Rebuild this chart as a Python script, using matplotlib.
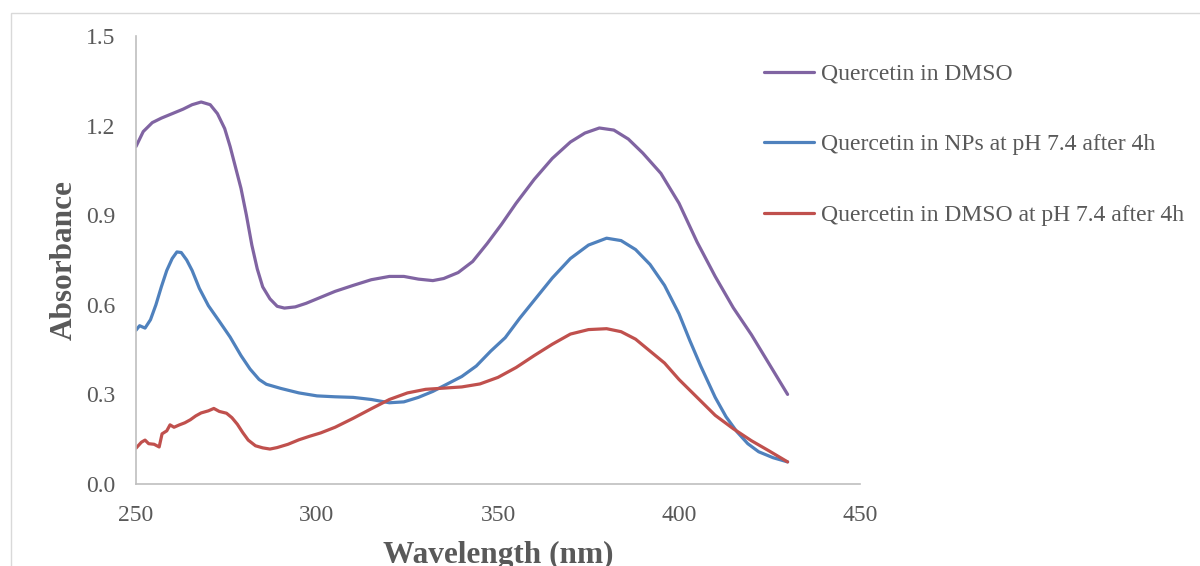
import matplotlib.pyplot as plt
from matplotlib.patches import Rectangle

plt.rcParams['font.family'] = ['Liberation Serif', 'DejaVu Serif']

# Quercetin in DMSO
wl_dmso = [250, 252, 254.5, 257, 260, 263, 265.5, 268, 270.5, 272.5, 274.5, 276, 277.5, 279,
           280.5, 282, 283.5, 285, 287, 289, 291, 294, 297, 301, 305, 310, 315, 320, 324, 328,
           332, 335, 339, 343, 347, 351, 355, 360, 365, 370, 374, 378, 382, 386, 390, 395,
           400, 405, 410, 415, 420, 425, 430]
abs_dmso = [1.13, 1.18, 1.21, 1.225, 1.24, 1.255, 1.27, 1.279, 1.27, 1.24, 1.19, 1.13, 1.06, 0.99,
            0.90, 0.80, 0.72, 0.66, 0.62, 0.595, 0.589, 0.593, 0.605, 0.625, 0.645, 0.665, 0.684,
            0.695, 0.695, 0.686, 0.681, 0.688, 0.708, 0.745, 0.805, 0.87, 0.94, 1.02, 1.09, 1.145,
            1.175, 1.192, 1.185, 1.155, 1.108, 1.04, 0.94, 0.81, 0.695, 0.59, 0.50, 0.40, 0.30]

# Quercetin in NPs at pH 7.4 after 4h
wl_np = [250, 251, 252.5, 254, 255.5, 257, 258.5, 260, 261.3, 262.5, 264, 265.5, 267.5, 270,
         273, 276, 279, 281.5, 284, 286, 290, 295, 300, 305, 310, 315, 320, 324, 328, 332, 336,
         340, 344, 348, 352, 356, 360, 365, 370, 375, 380, 384, 388, 392, 396, 400, 403, 406,
         410, 413, 416, 419, 422, 426, 430]
abs_np = [0.515, 0.53, 0.522, 0.55, 0.60, 0.66, 0.715, 0.755, 0.777, 0.775, 0.75, 0.715, 0.655,
          0.597, 0.545, 0.492, 0.43, 0.385, 0.35, 0.334, 0.32, 0.305, 0.295, 0.292, 0.29, 0.283,
          0.272, 0.275, 0.29, 0.31, 0.335, 0.36, 0.395, 0.445, 0.49, 0.555, 0.615, 0.69, 0.755,
          0.80, 0.823, 0.815, 0.785, 0.735, 0.665, 0.57, 0.48, 0.395, 0.29, 0.225, 0.175, 0.135,
          0.108, 0.088, 0.074]

# Quercetin in DMSO at pH 7.4 after 4h
wl_ph = [250, 251.5, 252.5, 253.5, 255, 256.4, 257.2, 258.5, 259.4, 260.5, 262, 263.5, 265,
         266.5, 268, 270, 271.5, 273, 275, 276.5, 278, 279.5, 281, 283, 285, 287, 289, 292, 295,
         298, 301, 305, 310, 315, 320, 325, 330, 335, 340, 345, 350, 355, 360, 365, 370, 375,
         380, 384, 388, 392, 396, 400, 405, 410, 415, 420, 425, 430]
abs_ph = [0.12, 0.14, 0.147, 0.135, 0.133, 0.124, 0.168, 0.178, 0.198, 0.19, 0.198, 0.205, 0.215,
          0.228, 0.238, 0.245, 0.253, 0.243, 0.237, 0.222, 0.2, 0.172, 0.147, 0.128, 0.121, 0.117,
          0.122, 0.133, 0.148, 0.16, 0.171, 0.19, 0.22, 0.252, 0.283, 0.305, 0.317, 0.321, 0.325,
          0.335, 0.357, 0.39, 0.43, 0.468, 0.502, 0.517, 0.52, 0.51, 0.485, 0.445, 0.405, 0.35,
          0.29, 0.23, 0.185, 0.145, 0.11, 0.074]

labels = ['Quercetin in DMSO', 'Quercetin in NPs at pH 7.4 after 4h',
          'Quercetin in DMSO at pH 7.4 after 4h']
colors = ['#8064A2', '#4F81BD', '#C0504D']
xticks = [250, 300, 350, 400, 450]
yticks = [0.0, 0.3, 0.6, 0.9, 1.2, 1.5]

fig = plt.figure(figsize=(12, 5.66), dpi=100)
ax = fig.add_axes([136 / 1200, 1 - 484 / 566, 724 / 1200, 448 / 566])

# chart border (cropped)
fig.patches.append(Rectangle((11 / 1200, -0.1), 1.2, 1 - 13 / 566 + 0.1,
                             transform=fig.transFigure, fill=False,
                             edgecolor='#d9d9d9', linewidth=1))

for x, y, c, lab in zip([wl_dmso, wl_np, wl_ph], [abs_dmso, abs_np, abs_ph], colors, labels):
    ax.plot(x, y, color=c, linewidth=2.3, label=lab, solid_capstyle='round')

ax.set_xlim(250, 450)
ax.set_ylim(0, 1.5)
ax.set_xticks(xticks)
ax.set_yticks(yticks)
ax.set_yticklabels([f'{v:.1f}' for v in yticks])
ax.tick_params(length=0, labelsize=17, labelcolor='#595959')
ax.tick_params(axis='y', pad=15)
ax.tick_params(axis='x', pad=15)
for s in ['top', 'right']:
    ax.spines[s].set_visible(False)
for s in ['left', 'bottom']:
    ax.spines[s].set_color('#bfbfbf')
    ax.spines[s].set_linewidth(1.2)

ax.set_xlabel('Wavelength (nm)', fontsize=22.5, fontweight='bold', color='#595959', labelpad=11)
ax.set_ylabel('Absorbance', fontsize=22.5, fontweight='bold', color='#595959', labelpad=5)

leg = fig.legend(loc='upper left', bbox_to_anchor=(755 / 1200, 1 - 54 / 566), frameon=False,
                 fontsize=17, handlelength=2.1, handletextpad=0.3, labelspacing=2.07,
                 borderaxespad=0)
for t in leg.get_texts():
    t.set_color('#595959')

fig.savefig('out.png', dpi=100)
